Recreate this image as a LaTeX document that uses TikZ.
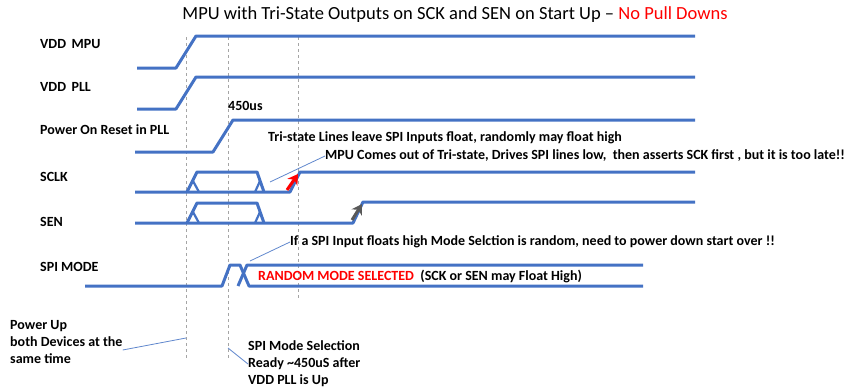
\documentclass[tikz,border=0pt]{standalone}
\usepackage{fontspec}
\setmainfont{Carlito}
\usetikzlibrary{arrows.meta,positioning}
\definecolor{sigblue}{RGB}{68,114,196}
\definecolor{notered}{RGB}{255,0,0}
\definecolor{gridgray}{RGB}{165,165,165}
\begin{document}
\begin{tikzpicture}[x=1pt,y=-1pt,
    sig/.style={draw=sigblue, line width=3pt, line join=round},
    tri/.style={draw=sigblue, line width=2.2pt},
    lbl/.style={anchor=west, inner sep=0pt, font=\fontsize{14}{14}\selectfont\bfseries},
    note/.style={anchor=west, inner sep=0pt, align=left, font=\fontsize{14}{17}\selectfont\bfseries},
    guide/.style={draw=gridgray, dashed, line width=0.6pt},
    lead/.style={draw=sigblue!85, line width=0.8pt},
    flag/.style={line width=3pt, -{Stealth[length=10pt,width=12pt]}}]
    \useasboundingbox (0,0) rectangle (844,389);

    \node[inner sep=0pt, font=\fontsize{18.5}{18.5}\selectfont] (title) at (455,15)
        {MPU with Tri-State Outputs on SCK and SEN on Start Up -- \textcolor{notered}{No Pull Downs}};

    \node[lbl] (vddmpu) at (40,44) {VDD\, MPU};
    \node[lbl] (vddpll) at (40,87) {VDD\, PLL};
    \node[lbl] (por) at (40,130) {Power On Reset in PLL};
    \node[lbl] (sclk) at (40,177) {SCLK};
    \node[lbl] (sen) at (40,222) {SEN};
    \node[lbl] (spimode) at (40,267) {SPI MODE};

    \draw[guide] (186,37) -- (186,358);
    \draw[guide] (228,37) -- (228,358);
    \draw[guide] (298,37) -- (298,298);

    \draw[sig] (137,68) -- (176,68) -- (196,36) -- (695,36);
    \draw[sig] (137,109) -- (176,109) -- (196,77) -- (695,77);
    \draw[sig] (135,152) -- (213,152) -- (233,120) -- (695,120);
    \draw[sig] (135,192) -- (290,192) -- (300,172) -- (695,172);
    \draw[sig] (187,192) -- (197,172) -- (257,172) -- (264,192);
    \draw[tri] (193,181) -- (199,192) (260,181) -- (255,192);
    \draw[sig] (135,223) -- (353,223) -- (363,202) -- (695,202);
    \draw[sig] (187,223) -- (197,203) -- (257,203) -- (264,223);
    \draw[tri] (193,212) -- (199,223) (260,212) -- (255,223);
    \draw[sig] (85,286) -- (222,286) -- (230,265) -- (240,265) -- (249,286) -- (643,286);
    \draw[sig] (238,286) -- (247,265) -- (643,265);

    \draw[flag, notered] (287,190) -- (298,174);
    \draw[flag, black!65] (352,220) -- (362,204);

    \node[note] (delay) at (228,106) {450us};
    \node[note] (trinote) at (268,138) {Tri-state Lines leave SPI Inputs float, randomly may float high};
    \node[note] (mpunote) at (325,156) {MPU Comes out of Tri-state, Drives SPI lines low,~ then asserts SCK first , but it is too late!!};
    \node[note] (ifnote) at (290,242) {If a SPI Input floats high Mode Selction is random, need to power down start over !!};
    \node[note] (random) at (258,276) {\textcolor{notered}{RANDOM MODE SELECTED}~ (SCK or SEN may Float High)};
    \node[note] (powerup) at (10,342) {Power Up\\both Devices at the\\same time};
    \node[note] (spisel) at (248,364) {SPI Mode Selection\\Ready \textasciitilde450uS after\\VDD PLL is Up};

    \coordinate (mpulead) at (270,182);
    \coordinate (iflead) at (250,261);
    \coordinate (puend) at (186,338);
    \coordinate (selstart) at (228,348);
    \draw[lead] (mpulead) -- (mpunote.west);
    \draw[lead] (iflead) -- (ifnote.west);
    \draw[lead] ([yshift=-8pt]powerup.east) -- (puend);
    \draw[lead] (selstart) -- (spisel.west);
\end{tikzpicture}
\end{document}
